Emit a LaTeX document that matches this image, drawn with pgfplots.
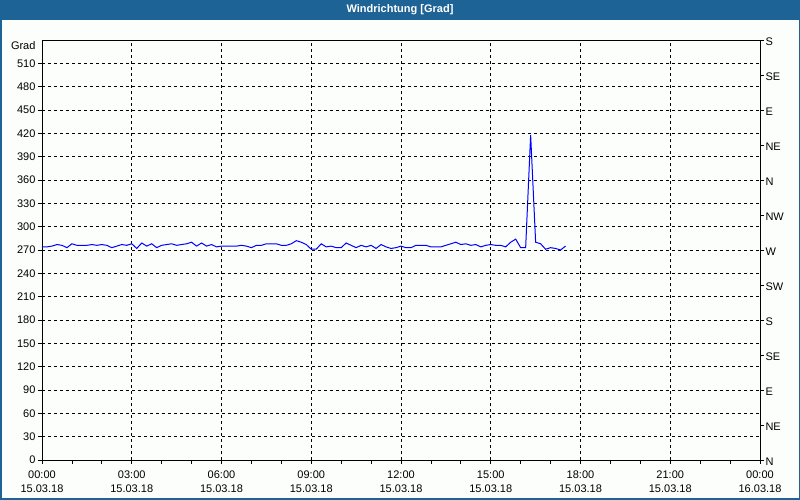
\documentclass[border=0pt]{standalone}
\usepackage{pgfplots}
\pgfplotsset{compat=1.18}
\usepackage{fontspec}
\setmainfont{Liberation Sans}
\definecolor{titleblue}{RGB}{30,99,150}
\definecolor{bgwhite}{RGB}{252,254,252}
\begin{document}
\begin{tikzpicture}
\useasboundingbox (0pt,0pt) rectangle (800pt,500pt);
\fill[bgwhite] (0pt,0pt) rectangle (800pt,500pt);
\fill[titleblue] (0pt,480pt) rectangle (800pt,500pt);
\draw[titleblue, line width=3pt] (0pt,0pt) rectangle (800pt,500pt);
\node[text=white, font=\fontsize{11}{13}\selectfont\bfseries] at (400pt,490pt) {Windrichtung [Grad]};
\begin{axis}[
  at={(42pt,40pt)}, anchor=south west,
  scale only axis, width=718pt, height=420pt,
  xmin=0, xmax=1440, ymin=0, ymax=540,
  axis line style={black, line width=0.8pt},
  xtick={0,180,...,1440},
  minor xtick={60,120,240,300,420,480,600,660,780,840,960,1020,1140,1200,1320,1380},
  xticklabels={{00:00\\15.03.18},{03:00\\15.03.18},{06:00\\15.03.18},{09:00\\15.03.18},{12:00\\15.03.18},{15:00\\15.03.18},{18:00\\15.03.18},{21:00\\15.03.18},{00:00\\16.03.18}},
  xticklabel style={align=center, font=\fontsize{11}{14}\selectfont, yshift=-3pt},
  ytick={0,30,...,510},
  yticklabel style={font=\fontsize{11}{13}\selectfont, xshift=1pt},
  tick align=outside, major tick length=4pt, minor tick length=4pt,
  tick style={black, line width=0.8pt},
  xtick pos=bottom, ytick pos=left,
  xmajorgrids, ymajorgrids,
  major grid style={black, line width=0.8pt, dash pattern=on 3pt off 3pt},
  minor grid style={draw=none},
  /pgf/number format/assume math mode=true,
  clip=false,
]
\addplot[blue, line width=1pt] coordinates {
(0,274)(10,274)(20,275)(30,277)(40,276)(50,273)(60,278)(70,276)(80,276)(90,276)
(100,277)(110,276)(120,277)(130,276)(140,273)(150,275)(160,277)(170,276)(180,278)(190,272)
(200,279)(210,275)(220,278)(230,273)(240,276)(250,277)(260,278)(270,276)(280,277)(290,278)
(300,280)(310,275)(320,279)(330,275)(340,277)(350,274)(360,275)(370,275)(380,275)(390,275)
(400,276)(410,275)(420,273)(430,276)(440,276)(450,278)(460,278)(470,278)(480,276)(490,276)
(500,278)(510,282)(520,280)(530,277)(540,271)(550,271)(560,278)(570,274)(580,275)(590,273)
(600,273)(610,279)(620,276)(630,273)(640,276)(650,274)(660,276)(670,272)(680,277)(690,274)
(700,272)(710,273)(720,275)(730,273)(740,273)(750,276)(760,276)(770,276)(780,274)(790,274)
(800,274)(810,276)(820,278)(830,280)(840,277)(850,278)(860,276)(870,277)(880,274)(890,276)
(900,277)(910,276)(920,276)(930,274)(940,280)(950,284)(960,273)(970,273)(980,418)(990,280)
(1000,278)(1010,271)(1020,273)(1030,272)(1040,270)(1050,275)
};
\node[anchor=east, font=\fontsize{11}{13}\selectfont] at ([xshift=-3pt,yshift=-6pt]rel axis cs:0,1) {Grad};
\end{axis}
\begin{axis}[
  at={(42pt,40pt)}, anchor=south west,
  scale only axis, width=718pt, height=420pt,
  xmin=0, xmax=1440, ymin=0, ymax=540,
  axis y line*=right, axis x line=none,
  axis line style={black, line width=0.8pt},
  ytick={0,45,...,540},
  yticklabels={N,NE,E,SE,S,SW,W,NW,N,NE,E,SE,S},
  yticklabel style={font=\fontsize{11}{13}\selectfont, yshift=-2pt, xshift=-2pt},
  tick align=outside, major tick length=4pt,
  tick style={black, line width=0.8pt},
]
\end{axis}
\end{tikzpicture}
\end{document}
